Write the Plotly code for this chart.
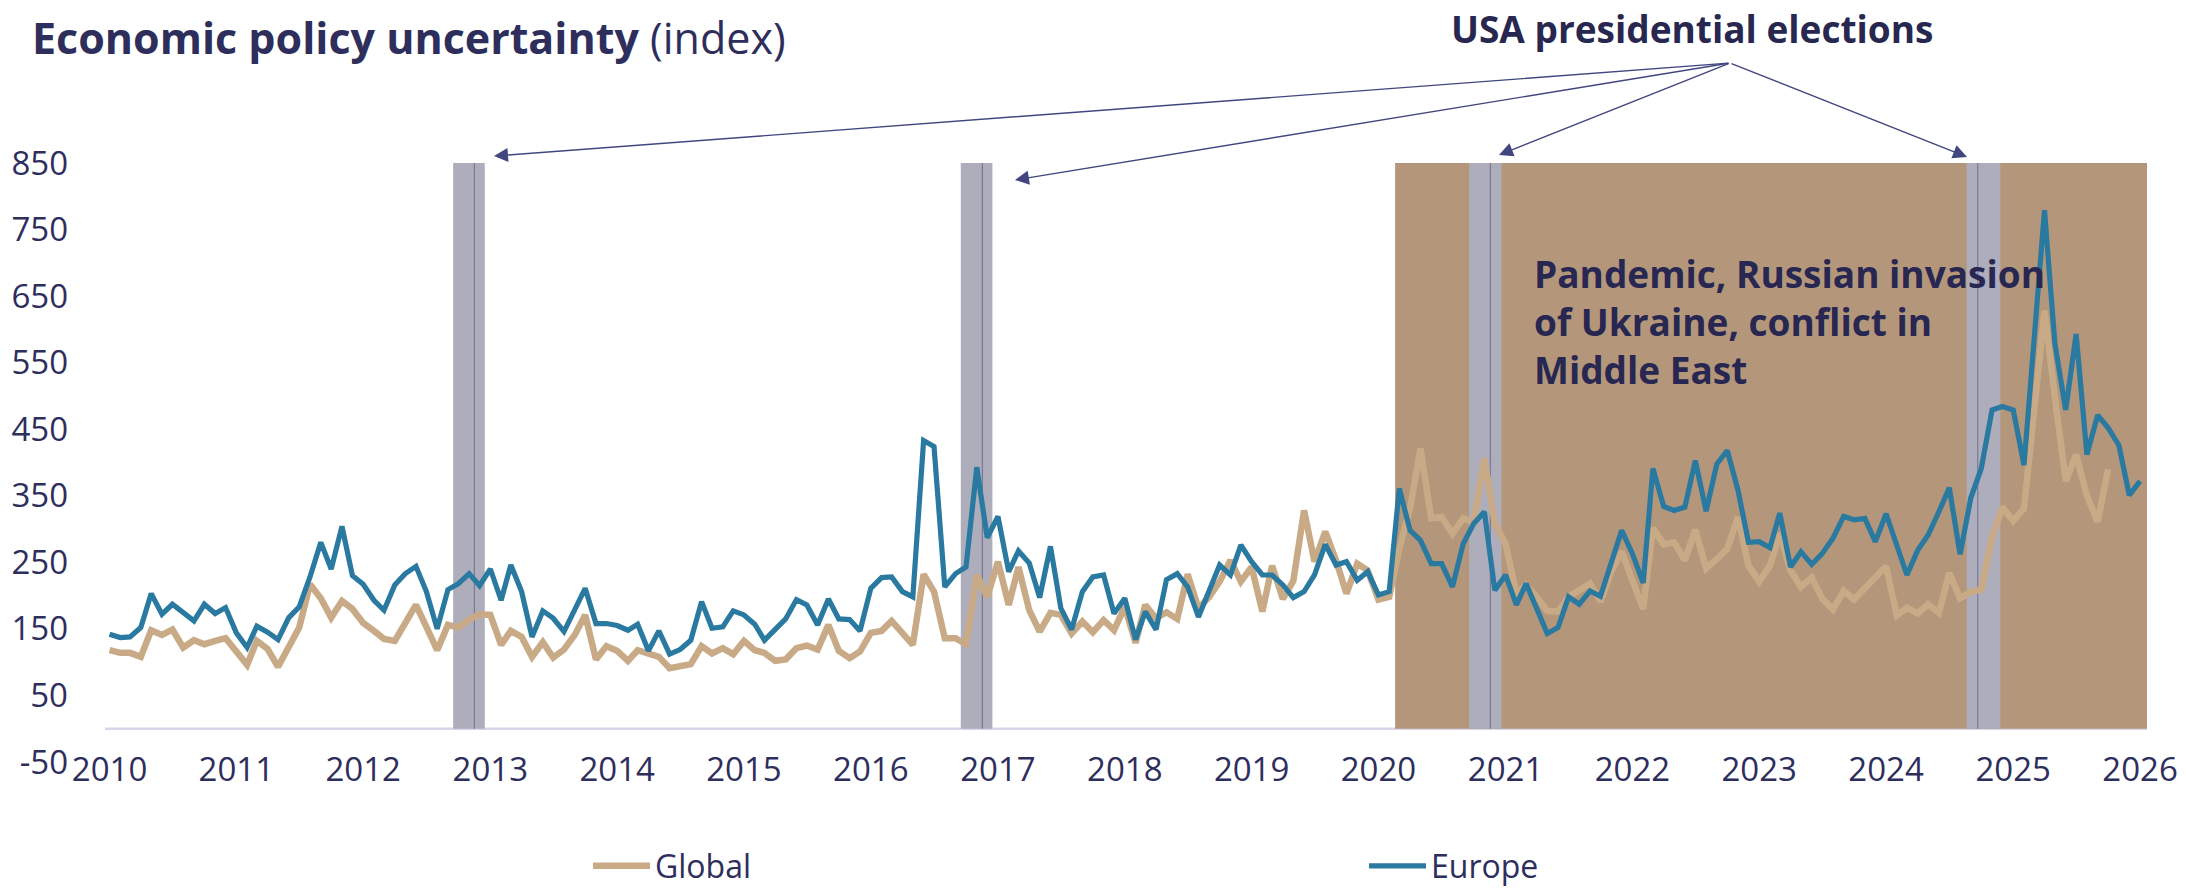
import pandas as pd
import plotly.graph_objects as go

# ---------------- data (monthly, starting Jan 2010) ----------------
europe = (
    [142, 137, 138, 152, 203, 172, 187, 174, 162, 187, 173, 182] +   # 2010
    [144, 122, 154, 145, 134, 167, 183, 228, 280, 240, 304, 230] +   # 2011
    [217, 193, 178, 216, 233, 244, 206, 150, 209, 218, 233, 215] +   # 2012
    [240, 193, 246, 206, 138, 177, 166, 146, 178, 211, 158, 158] +   # 2013
    [155, 148, 157, 117, 147, 112, 119, 133, 191, 151, 153, 177] +   # 2014
    [171, 157, 133, 148, 165, 194, 186, 156, 195, 165, 164, 147] +   # 2015
    [211, 227, 228, 206, 198, 433, 424, 213, 233, 243, 393, 287] +   # 2016
    [319, 236, 267, 249, 197, 274, 181, 149, 206, 228, 231, 173] +   # 2017
    [196, 134, 176, 149, 224, 233, 213, 168, 207, 246, 231, 276] +   # 2018
    [251, 231, 231, 216, 197, 206, 231, 277, 246, 251, 223, 236] +   # 2019
    [201, 206, 361, 298, 283, 248, 248, 213, 278, 308, 326, 208] +   # 2020
    [231, 186, 218, 181, 143, 152, 198, 187, 207, 199, 248, 298] +   # 2021
    [263, 219, 391, 334, 328, 333, 403, 327, 398, 418, 358, 280] +   # 2022
    [281, 272, 324, 243, 266, 247, 263, 286, 319, 314, 316, 281] +   # 2023
    [323, 278, 231, 268, 291, 326, 362, 262, 347, 391, 479, 484] +   # 2024
    [479, 396, 585, 779, 578, 479, 593, 412, 471, 452, 426, 351] +   # 2025
    [372]                                                            # 2026
)

global_epu = (
    [118, 114, 114, 108, 148, 141, 149, 122, 133, 127, 132, 136] +   # 2010
    [116, 96, 132, 120, 93, 123, 152, 217, 196, 167, 192, 180] +     # 2011
    [159, 147, 135, 132, 161, 186, 153, 118, 156, 152, 164, 172] +   # 2012
    [171, 126, 147, 138, 108, 130, 107, 119, 141, 171, 104, 124] +   # 2013
    [117, 102, 118, 113, 108, 91, 94, 97, 124, 113, 121, 112] +      # 2014
    [132, 118, 114, 102, 104, 121, 125, 119, 156, 117, 106, 116] +   # 2015
    [144, 147, 162, 144, 126, 232, 206, 136, 136, 127, 231, 198] +   # 2016
    [251, 186, 243, 178, 146, 174, 171, 143, 161, 145, 163, 148] +   # 2017
    [183, 129, 186, 166, 175, 165, 232, 181, 198, 221, 253, 221] +   # 2018
    [243, 176, 245, 195, 222, 328, 251, 296, 253, 203, 248, 238] +   # 2019
    [194, 198, 270, 331, 421, 316, 318, 293, 316, 311, 406, 308] +   # 2020
    [278, 203, 216, 198, 177, 176, 198, 208, 218, 191, 236, 266] +   # 2021
    [224, 180, 302, 277, 280, 253, 299, 241, 255, 270, 318, 245] +   # 2022
    [221, 245, 293, 238, 213, 227, 196, 179, 207, 194, 211, 228] +   # 2023
    [244, 170, 182, 173, 187, 174, 234, 196, 206, 209, 288, 333] +   # 2024
    [312, 331, 480, 628, 498, 372, 412, 350, 311, 390]               # 2025
)

start_month = "2010-01-01"
years = list(range(2010, 2027))
y_ticks = [-50, 50, 150, 250, 350, 450, 550, 650, 750, 850]

# US presidential elections: shaded window and marker line
election_start = ["2012-09-16", "2016-09-16", "2020-09-18", "2024-08-20"]
election_end = ["2012-12-16", "2016-12-16", "2020-12-20", "2024-11-25"]
election_line = ["2012-11-16", "2016-11-17", "2020-11-18", "2024-09-21"]
crisis_start = "2020-02-18"
crisis_text = "Pandemic, Russian invasion<br>of Ukraine, conflict in<br>Middle East"

x_min, x_max = "2009-12-19", "2026-01-21"

# ---------------- styling ----------------
FONT = "Open Sans"
NAVY = "#2E2E5C"
C_GLOBAL = "#C9AA86"
C_EUROPE = "#2A79A1"
C_CRISIS = "#B4977A"
C_ELECT = "#AEADBB"
C_ARROW = "#41467F"

dates_eu = pd.date_range(start_month, periods=len(europe), freq="MS")
dates_gl = pd.date_range(start_month, periods=len(global_epu), freq="MS")

fig = go.Figure()
fig.add_trace(go.Scatter(x=dates_gl, y=global_epu, mode="lines", name="Global",
                         line=dict(color=C_GLOBAL, width=6.5), legend="legend"))
fig.add_trace(go.Scatter(x=dates_eu, y=europe, mode="lines", name="Europe",
                         line=dict(color=C_EUROPE, width=5.2), legend="legend2"))

shapes = []
shapes.append(dict(type="rect", xref="x", yref="y", x0=crisis_start, x1=x_max,
                   y0=0, y1=850, fillcolor=C_CRISIS, line=dict(width=0), layer="below"))
for s, e, l in zip(election_start, election_end, election_line):
    shapes.append(dict(type="rect", xref="x", yref="y", x0=s, x1=e, y0=0, y1=850,
                       fillcolor=C_ELECT, line=dict(width=0), layer="below"))
    shapes.append(dict(type="line", xref="x", yref="y", x0=l, x1=l, y0=0, y1=850,
                       line=dict(color="#6E6E90", width=1), layer="below"))
shapes.append(dict(type="line", xref="paper", yref="y", x0=0, x1=1, y0=0, y1=0,
                   line=dict(color="#D6D6EA", width=2.5), layer="below"))

# plot area in pixels
L, R, T, B = 105, 2147, 163, 762
PW, PH = R - L, B - T


def px_x(px):
    return (px - L) / PW


def px_y(py):
    return (B - py) / PH


annotations = []
annotations.append(dict(
    xref="paper", yref="paper", x=px_x(30), y=px_y(38), xanchor="left", yanchor="middle",
    text="<b>Economic policy uncertainty</b> (index)", showarrow=False,
    font=dict(family=FONT, size=43, color=NAVY)))
annotations.append(dict(
    xref="paper", yref="paper", x=px_x(1692), y=px_y(28), xanchor="center", yanchor="middle",
    text="<b>USA presidential elections</b>", showarrow=False,
    font=dict(family=FONT, size=37, color="#272750")))
annotations.append(dict(
    xref="paper", yref="paper", x=px_x(1532), y=px_y(321),
    xanchor="left", yanchor="middle", align="left",
    text=f"<b>{crisis_text}</b>", showarrow=False,
    font=dict(family=FONT, size=37, color="#272752")))

origin = (1730, 63)
tips = [(494, 156), (1015, 180), (1499, 155), (1967, 157)]
for tx, ty in tips:
    annotations.append(dict(
        xref="paper", yref="paper", x=px_x(tx), y=px_y(ty), text="",
        showarrow=True, axref="pixel", ayref="pixel",
        ax=origin[0] - tx, ay=origin[1] - ty,
        arrowhead=2, arrowsize=2, arrowwidth=1.4, arrowcolor=C_ARROW,
        standoff=0, startstandoff=0))

legend_style = dict(orientation="h", yanchor="middle", xanchor="left", itemwidth=57,
                    font=dict(family=FONT, size=32, color=NAVY),
                    bgcolor="rgba(0,0,0,0)", y=px_y(866))

fig.update_layout(
    width=2186, height=890,
    margin=dict(l=L, r=2186 - R, t=T, b=890 - B, pad=0, autoexpand=False),
    paper_bgcolor="white", plot_bgcolor="white",
    font=dict(family=FONT, color=NAVY, size=33),
    shapes=shapes, annotations=annotations,
    showlegend=True,
    legend=dict(legend_style, x=px_x(588)),
    legend2=dict(legend_style, x=px_x(1364)),
    xaxis=dict(type="date", range=[x_min, x_max], showgrid=False, zeroline=False,
               showline=False, ticks="", automargin=False,
               tickvals=[f"{y}-01-01" for y in years], ticktext=[str(y) for y in years],
               tickfont=dict(family=FONT, size=33, color=NAVY), ticklabelstandoff=-15),
    yaxis=dict(range=[-50, 850], showgrid=False, zeroline=False, showline=False, ticks="",
               automargin=False,
               tickvals=y_ticks, ticktext=[str(v) for v in y_ticks],
               tickfont=dict(family=FONT, size=33, color=NAVY), ticklabelstandoff=36),
    hovermode=False,
)

fig.write_html("out.html", config={"displayModeBar": False},
               post_script="document.body.style.margin='0';")
